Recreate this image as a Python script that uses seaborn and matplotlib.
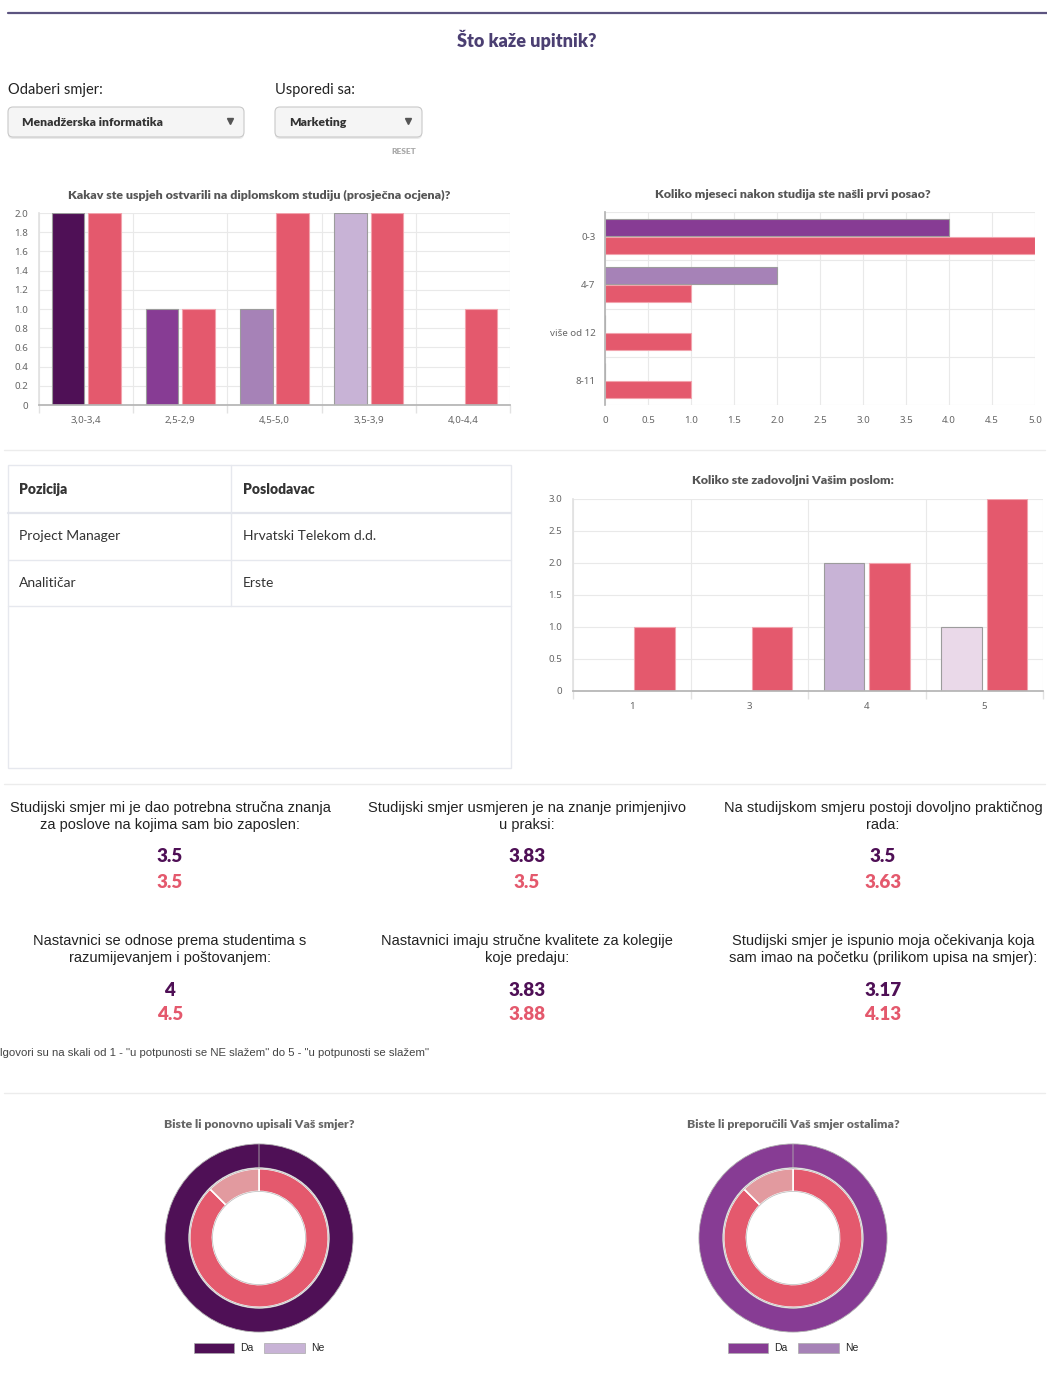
import numpy as np
import pandas as pd
import matplotlib
matplotlib.use("Agg")
import matplotlib.pyplot as plt
from matplotlib.patches import FancyBboxPatch, Patch
import seaborn as sns

# boje
TAMNA = "#4f1056"
LJUB = "#873c94"
SREDNJA = "#a682b7"
SVIJETLA = "#c8b3d6"
BLIJEDA = "#ead9e9"
ROZA = "#e4596d"
ROZA_SV = "#e29a9f"

smjer_a = "Menadžerska informatika"
smjer_b = "Marketing"

ocjena_kat = ["3,0-3,4", "2,5-2,9", "4,5-5,0", "3,5-3,9", "4,0-4,4"]
ocjena_a = [2, 1, 1, 2, 0]
ocjena_b = [2, 1, 2, 2, 1]

posao_kat = ["0-3", "4-7", "više od 12", "8-11"]
posao_a = [4, 2, 0, 0]
posao_b = [5, 1, 1, 1]

zadovoljstvo_kat = ["1", "3", "4", "5"]
zadovoljstvo_a = [0, 0, 2, 1]
zadovoljstvo_b = [1, 1, 2, 3]

pozicije = ["Project Manager", "Analitičar"]
poslodavci = ["Hrvatski Telekom d.d.", "Erste"]

pitanja = [
    "Studijski smjer mi je dao potrebna stručna znanja\nza poslove na kojima sam bio zaposlen:",
    "Studijski smjer usmjeren je na znanje primjenjivo\nu praksi:",
    "Na studijskom smjeru postoji dovoljno praktičnog\nrada:",
    "Nastavnici se odnose prema studentima s\nrazumijevanjem i poštovanjem:",
    "Nastavnici imaju stručne kvalitete za kolegije\nkoje predaju:",
    "Studijski smjer je ispunio moja očekivanja koja\nsam imao na početku (prilikom upisa na smjer):",
]
prosjek_a = [3.5, 3.83, 3.5, 4, 3.83, 3.17]
prosjek_b = [3.5, 3.5, 3.63, 4.5, 3.88, 4.13]

upis_a = [6, 0]
upis_b = [7, 1]
preporuka_a = [6, 0]
preporuka_b = [7, 1]
odgovori = ["Da", "Ne"]

W, H = 1047, 1374
FONT = ["Lato", "DejaVu Sans"]
NARROW = ["Liberation Sans Narrow", "Liberation Sans", "DejaVu Sans"]
TICKFONT = ["Noto Sans", "DejaVu Sans"]
GRID = "#e9e9e9"
TICK = "#666666"

sns.set_theme(style="white")
plt.rcParams["font.family"] = FONT

fig = plt.figure(figsize=(W / 100, H / 100), dpi=100)

bg = fig.add_axes([0, 0, 1, 1])
bg.set_xlim(0, W)
bg.set_ylim(H, 0)
bg.axis("off")
bg.patch.set_alpha(0)


def px_axes(x0, y0, x1, y1):
    return fig.add_axes([x0 / W, 1 - y1 / H, (x1 - x0) / W, (y1 - y0) / H])


def chart_title(x, y, s):
    bg.text(x, y, s, ha="center", va="center", fontsize=8.9, fontweight="heavy", color="#555555")


def grouped_bars(ax, cats, a, b, colors_a, horizontal=False):
    df = pd.DataFrame({
        "kat": cats + cats,
        "n": a + b,
        "smjer": [smjer_a] * len(cats) + [smjer_b] * len(cats),
    })
    if horizontal:
        sns.barplot(data=df, y="kat", x="n", hue="smjer", orient="h", palette=[LJUB, ROZA],
                    width=0.75, gap=0.06, saturation=1, errorbar=None, legend=False, ax=ax)
    else:
        sns.barplot(data=df, x="kat", y="n", hue="smjer", palette=[LJUB, ROZA],
                    width=0.77, gap=0.1, saturation=1, errorbar=None, legend=False, ax=ax)
    for patch, c in zip(ax.containers[0], colors_a):
        patch.set_facecolor(c)
        patch.set_edgecolor("#9c9c9c")
        patch.set_linewidth(0.8)
    for patch in ax.containers[1]:
        patch.set_edgecolor("#f2a3ad")
        patch.set_linewidth(0.8)
    ax.set_xlabel("")
    ax.set_ylabel("")
    ax.set_axisbelow(True)
    for s in ["top", "right"]:
        ax.spines[s].set_visible(False)
    ax.tick_params(labelsize=7, labelcolor=TICK)
    for lab in ax.get_xticklabels() + ax.get_yticklabels():
        lab.set_family(TICKFONT)


def num_labels(vals):
    return ["0" if v == 0 else f"{v:.1f}" for v in vals]


def vertical_chart(ax, cats, a, b, colors_a, ymax, step):
    n = len(cats)
    ticks = np.arange(0, ymax + 0.001, step)
    grouped_bars(ax, cats, a, b, colors_a)
    ax.set_xlim(-0.5, n - 0.5)
    ax.set_ylim(0, ymax)
    ax.set_yticks(ticks)
    ax.set_yticklabels(num_labels(ticks), family=TICKFONT, fontsize=7, color=TICK)
    ax.set_xticks(np.arange(-0.5, n), minor=True)
    ax.grid(axis="y", color=GRID, lw=0.8)
    ax.grid(axis="x", which="minor", color=GRID, lw=0.8)
    ax.tick_params(axis="x", which="minor", length=6, color="#e2e2e2", bottom=True)
    ax.tick_params(axis="x", which="major", length=0, pad=8)
    ax.tick_params(axis="y", length=0, pad=8)
    ax.spines["left"].set_color("#e2e2e2")
    ax.spines["bottom"].set_color("#b5b5b5")


# --- zaglavlje ---
bg.plot([8, W], [13, 13], color="#5c5480", lw=1.6)
bg.text(527, 40, "Što kaže upitnik?", ha="center", va="center", fontsize=13,
        fontweight="heavy", color="#4b3f72")

for x0, x1, label, value in [(8, 244, "Odaberi smjer:", smjer_a), (275, 422, "Usporedi sa:", smjer_b)]:
    bg.text(x0, 90, label, ha="left", va="center", fontsize=10.5, color="#222222")
    bg.add_patch(FancyBboxPatch((x0, 109), x1 - x0, 30, boxstyle="round,pad=0,rounding_size=5",
                                fc="#dcdcdc", ec="none", alpha=0.6, zorder=1))
    bg.add_patch(FancyBboxPatch((x0, 107), x1 - x0, 30, boxstyle="round,pad=0,rounding_size=5",
                                fc="#f5f5f5", ec="#c9c9c9", lw=0.8, zorder=2))
    bg.text(x0 + 14, 122, value, ha="left", va="center", fontsize=8.7, fontweight="heavy",
            color="#333333", zorder=3)
    bg.plot([x1 - 14], [121], marker="v", ms=4.5, color="#555555", zorder=3)
bg.text(404, 151, "RESET", ha="center", va="center", fontsize=6, fontweight="heavy", color="#aaaaaa")

# --- graf 1: prosjecna ocjena ---
chart_title(259, 195, "Kakav ste uspjeh ostvarili na diplomskom studiju (prosječna ocjena)?")
ax1 = px_axes(39, 213, 510, 405)
vertical_chart(ax1, ocjena_kat, ocjena_a, ocjena_b, [TAMNA, LJUB, SREDNJA, SVIJETLA, BLIJEDA], 2, 0.2)

# --- graf 2: prvi posao ---
chart_title(793, 195, "Koliko mjeseci nakon studija ste našli prvi posao?")
ax2 = px_axes(605, 212, 1035, 405)
grouped_bars(ax2, posao_kat, posao_a, posao_b, [LJUB, SREDNJA, SVIJETLA, BLIJEDA], horizontal=True)
ax2.set_xlim(0, 5)
xt = np.arange(0, 5.001, 0.5)
ax2.set_xticks(xt)
ax2.set_xticklabels(num_labels(xt), family=TICKFONT, fontsize=7, color=TICK)
ax2.set_ylim(len(posao_kat) - 0.5, -0.5)
ax2.set_yticks(np.arange(-0.5, len(posao_kat)), minor=True)
ax2.grid(axis="x", color=GRID, lw=0.8)
ax2.grid(axis="y", which="minor", color=GRID, lw=0.8)
ax2.tick_params(axis="y", which="minor", length=0)
ax2.tick_params(axis="x", length=0, pad=8)
ax2.tick_params(axis="y", which="major", length=0, pad=7)
ax2.spines["left"].set_color("#b5b5b5")
ax2.spines["bottom"].set_visible(False)

bg.plot([4, 1045], [450, 450], color="#ececec", lw=1)

# --- tablica ---
tx0, tx1, tmid = 8, 511, 231
row_y = [465, 513, 560, 606]
bg.add_patch(plt.Rectangle((tx0, 465), tx1 - tx0, 303, fc="none", ec="#e6e8ee", lw=1))
bg.plot([tx0, tx1], [513, 513], color="#e3e5ec", lw=1.6)
for y in row_y[2:]:
    bg.plot([tx0, tx1], [y, y], color="#e6e8ee", lw=1)
bg.plot([tmid, tmid], [465, 606], color="#e6e8ee", lw=1)
bg.text(19, 489, "Pozicija", ha="left", va="center", fontsize=10, fontweight="heavy", color="#333333")
bg.text(243, 489, "Poslodavac", ha="left", va="center", fontsize=10, fontweight="heavy", color="#333333")
for i, (poz, posl) in enumerate(zip(pozicije, poslodavci)):
    yc = (row_y[i + 1] + row_y[i + 2]) / 2
    bg.text(19, yc, poz, ha="left", va="center", fontsize=10, color="#333333")
    bg.text(243, yc, posl, ha="left", va="center", fontsize=10, color="#333333")

# --- graf 3: zadovoljstvo ---
chart_title(793, 481, "Koliko ste zadovoljni Vašim poslom:")
ax3 = px_axes(573, 499, 1043, 691)
vertical_chart(ax3, zadovoljstvo_kat, zadovoljstvo_a, zadovoljstvo_b,
               [TAMNA, LJUB, SVIJETLA, BLIJEDA], 3, 0.5)

bg.plot([4, 1045], [784, 784], color="#ececec", lw=1)

# --- prosjecne ocjene ---
cols = [170, 527, 883]
for i, (q, va, vb) in enumerate(zip(pitanja, prosjek_a, prosjek_b)):
    xc = cols[i % 3]
    y0 = 810 if i < 3 else 943
    bg.text(xc, y0 - 9, q, ha="center", va="top", fontsize=10.5, color="#222222",
            family=NARROW, linespacing=1.3)
    bg.text(xc, y0 + 47, f"{va:g}", ha="center", va="center", fontsize=13.5, fontweight="heavy", color=TAMNA)
    bg.text(xc, y0 + 72, f"{vb:g}", ha="center", va="center", fontsize=13.5, fontweight="heavy", color=ROZA)

bg.text(0, 1053, "lgovori su na skali od 1 - \"u potpunosti se NE slažem\" do 5 - \"u potpunosti se slažem\"",
        ha="left", va="center", fontsize=8.2, color="#444444", family=NARROW)

bg.plot([4, 1045], [1093, 1093], color="#ececec", lw=1)

# --- krafne ---
for xc, title, outer, inner, c_da, c_ne in [
    (259, "Biste li ponovno upisali Vaš smjer?", upis_a, upis_b, TAMNA, SVIJETLA),
    (793, "Biste li preporučili Vaš smjer ostalima?", preporuka_a, preporuka_b, LJUB, SREDNJA),
]:
    bg.text(xc, 1125, title, ha="center", va="center", fontsize=8.8, fontweight="heavy", color="#666666")
    axp = px_axes(xc - 95, 1143, xc + 95, 1333)
    axp.pie(outer, radius=1, startangle=90, counterclock=False, colors=[c_da, c_ne],
            wedgeprops=dict(width=24 / 95, edgecolor="#b0b0b0", linewidth=0.6))
    axp.pie(inner, radius=70 / 95, startangle=90, counterclock=False, colors=[ROZA, ROZA_SV],
            wedgeprops=dict(width=23 / 95, edgecolor="white", linewidth=1.2))
    axp.pie([1], radius=70 / 95, colors=["none"],
            wedgeprops=dict(width=23 / 95, edgecolor="#b8b8b8", linewidth=0.5, fill=False))
    axp.set_xlim(-1.01, 1.01)
    axp.set_ylim(-1.01, 1.01)
    axp.set_aspect("equal")
    handles = [Patch(facecolor=c_da, edgecolor="#aaaaaa", lw=0.5),
               Patch(facecolor=c_ne, edgecolor="#aaaaaa", lw=0.5)]
    fig.legend(handles, odgovori, loc="center", bbox_to_anchor=(xc / W, 1 - 1348 / H), ncol=2,
               frameon=False, handlelength=3.9, handleheight=1.1,
               handletextpad=0.6, columnspacing=1.0, prop={"family": NARROW, "size": 7.5})

fig.savefig("out.png", dpi=100)
